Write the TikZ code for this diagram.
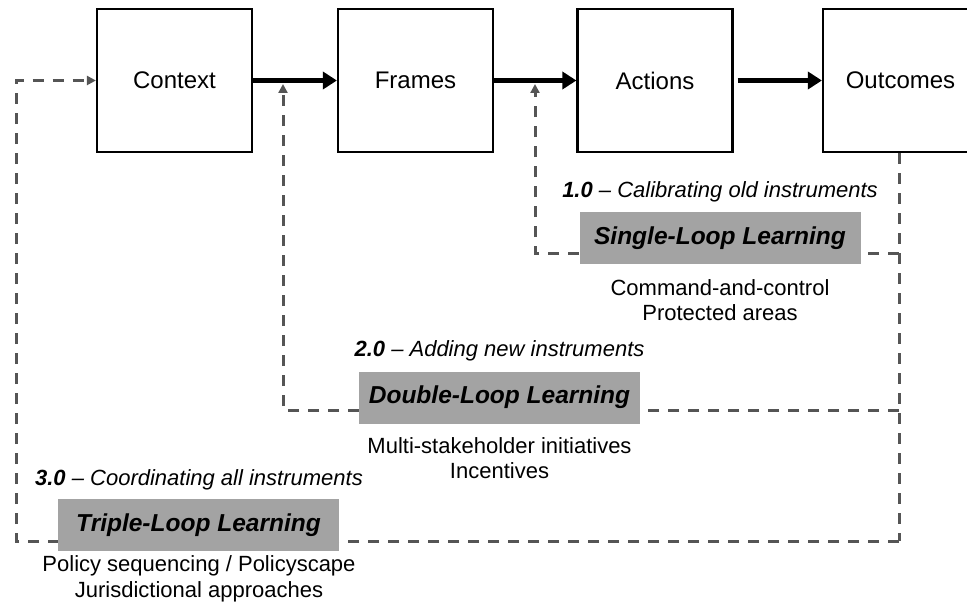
\documentclass[tikz,border=0pt]{standalone}
\usepackage{fontspec}
\setmainfont{Liberation Sans}
\usetikzlibrary{arrows.meta,backgrounds}

\definecolor{loopgray}{HTML}{555555}
\definecolor{labelgray}{HTML}{A3A3A3}

\tikzset{
  stage/.style={draw=black, line width=2.2pt, minimum width=155pt, minimum height=143pt,
                inner sep=0pt, font=\fontsize{24}{28}\selectfont, anchor=center},
  flow/.style={line width=4.2pt, -{Triangle[length=14pt,width=17pt]}},
  loopline/.style={draw=loopgray, line width=3pt, dash pattern=on 11pt off 9pt},
  looparrow/.style={loopline, -{Triangle[length=9pt,width=9pt]}},
  loopbox/.style={fill=labelgray, minimum width=281pt, minimum height=52pt, inner sep=0pt,
                  font=\fontsize{24.5}{28}\selectfont\bfseries\itshape},
  looptitle/.style={font=\fontsize{22}{26}\selectfont\itshape, inner sep=0pt},
  loopnote/.style={font=\fontsize{22}{25.5}\selectfont, align=center, inner sep=0pt}
}

\begin{document}
\begin{tikzpicture}[x=1pt, y=-1pt]
  \useasboundingbox (0,0) rectangle (967,610);

  % main sequence of stages
  \node[stage] (context)  at (174.5,80.5) {Context};
  \node[stage] (frames)   at (415.5,80.5) {Frames};
  \node[stage] (actions)  at (655,80.5)   {Actions};
  \node[stage] (outcomes) at (900.5,80.5) {Outcomes};

  \draw[flow] (context.east) -- (frames.west);
  \draw[flow] (frames.east) -- (actions.west);
  \draw[flow, shorten <=4pt] (actions.east) -- (outcomes.west);

  % labels of the three learning loops
  \node[loopbox] (single) at (720,238) {Single-Loop Learning};
  \node[looptitle] (singletitle) at (720,192) {\textbf{1.0} – Calibrating old instruments};
  \node[loopnote] (singlenote) at (720,300) {Command-and-control\\Protected areas};

  \node[loopbox] (double) at (499.5,397.5) {Double-Loop Learning};
  \node[looptitle] (doubletitle) at (499.5,351) {\textbf{2.0} – Adding new instruments};
  \node[loopnote] (doublenote) at (499.5,458) {Multi-stakeholder initiatives\\Incentives};

  \node[loopbox] (triple) at (198.5,525) {Triple-Loop Learning};
  \node[looptitle] (tripletitle) at (199,480) {\textbf{3.0} – Coordinating all instruments};
  \node[loopnote] (triplenote) at (199,579) {Policy sequencing / Policyscape\\Jurisdictional approaches};

  % feedback paths, drawn beneath the loop labels
  \coordinate (fbtop) at (899,153);
  \coordinate (fbsingle) at (899,253);
  \coordinate (fbdouble) at (899,410);
  \coordinate (fbtriple) at (899,541);
  \coordinate (singletip) at (535,84);
  \coordinate (doubletip) at (283,84);
  \coordinate (tripleleft) at (16,541);

  \begin{pgfonlayer}{background}
    \draw[loopline] (fbtop) -- (fbtriple);
    \draw[looparrow] (fbsingle) -| (singletip);
    \draw[looparrow] (fbdouble) -| (doubletip);
    \draw[looparrow] (fbtriple) -- (tripleleft) |- (context.west);
  \end{pgfonlayer}
\end{tikzpicture}
\end{document}
